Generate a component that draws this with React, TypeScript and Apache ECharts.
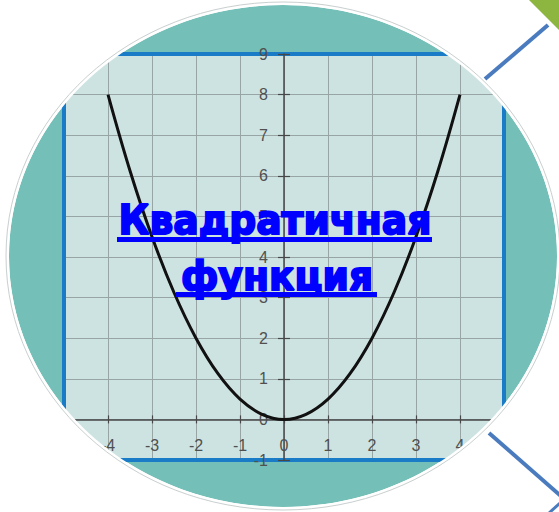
import React, { useEffect, useRef } from "react";
import * as echarts from "echarts";

// Curve points (x, y)
const curveX = [-4, -3.5, -3, -2.5, -2, -1.5, -1, -0.5, 0, 0.5, 1, 1.5, 2, 2.5, 3, 3.5, 4];
const curveY = [8, 6.125, 4.5, 3.125, 2, 1.125, 0.5, 0.125, 0, 0.125, 0.5, 1.125, 2, 3.125, 4.5, 6.125, 8];

const xRange = { min: -5, max: 5, step: 1 };
const yRange = { min: -1, max: 9, step: 1 };
const hiddenXLabels = [-5, 5];

const titleLines = ["Квадратичная", "функция"];

const TEAL = "#74bfb7";
const PANEL = "#cde3e2";
const BORDER = "#1a7cc6";
const GRIDLINE = "#98a5a5";
const AXIS = "#474747";
const LABEL = "#505050";

export default function App() {
  const ref = useRef<HTMLDivElement>(null);

  useEffect(() => {
    if (!ref.current) return;
    const chart = echarts.init(ref.current, undefined, { renderer: "svg" });

    const cx = 283;
    const cy = 256;
    const rx = 274;
    const ry = 251;

    const gLeft = 64;
    const gTop = 54;
    const gW = 440;
    const gH = 406;
    // place the axes through the origin
    const xOff = -(gH * (0 - yRange.min)) / (yRange.max - yRange.min);
    const yOff = -(gW * (0 - xRange.min)) / (xRange.max - xRange.min);

    const baseX = {
      type: "value",
      min: xRange.min,
      max: xRange.max,
      interval: xRange.step,
      position: "bottom",
    };
    const baseY = {
      type: "value",
      min: yRange.min,
      max: yRange.max,
      interval: yRange.step,
      position: "left",
    };
    const none = {
      axisLine: { show: false, onZero: false },
      axisTick: { show: false },
      axisLabel: { show: false },
      splitLine: { show: false },
    };

    const titleStyle = {
      fill: "#0000ff",
      stroke: "#0000ff",
      lineWidth: 2,
      fontSize: 41,
      fontWeight: "bold",
      fontFamily: "DejaVu Sans",
      align: "center",
      verticalAlign: "middle",
    };

    chart.setOption({
      animation: false,
      backgroundColor: "#ffffff",
      grid: {
        left: gLeft,
        top: gTop,
        width: gW,
        height: gH,
        show: true,
        backgroundColor: PANEL,
        borderWidth: 0,
      },
      xAxis: [
        {
          ...baseX,
          ...none,
          offset: xOff,
          z: 3,
          axisLine: { show: true, onZero: false, lineStyle: { color: AXIS, width: 1.5 } },
          axisTick: { show: true, length: 4, lineStyle: { color: AXIS, width: 1.2 } },
          axisLabel: {
            show: true,
            margin: 18,
            color: LABEL,
            fontSize: 16,
            fontFamily: "Liberation Sans",
            formatter: (v: number) => (hiddenXLabels.includes(v) ? "" : String(v)),
          },
        },
        {
          ...baseX,
          ...none,
          offset: xOff,
          z: 3,
          axisTick: { show: true, inside: true, length: 4, lineStyle: { color: AXIS, width: 1.2 } },
        },
        {
          ...baseX,
          ...none,
          z: 0,
          splitLine: { show: true, lineStyle: { color: GRIDLINE, width: 1 } },
        },
      ],
      yAxis: [
        {
          ...baseY,
          ...none,
          offset: yOff,
          z: 3,
          axisLine: { show: true, onZero: false, lineStyle: { color: AXIS, width: 1.5 } },
          axisTick: { show: true, length: 6, lineStyle: { color: AXIS, width: 1.2 } },
          axisLabel: {
            show: true,
            margin: 16,
            color: LABEL,
            fontSize: 16,
            fontFamily: "Liberation Sans",
          },
        },
        {
          ...baseY,
          ...none,
          offset: yOff,
          z: 3,
          axisTick: { show: true, inside: true, length: 6, lineStyle: { color: AXIS, width: 1.2 } },
        },
        {
          ...baseY,
          ...none,
          z: 0,
          splitLine: { show: true, lineStyle: { color: GRIDLINE, width: 1 } },
        },
      ],
      series: [
        {
          type: "line",
          xAxisIndex: 0,
          yAxisIndex: 0,
          data: curveX.map((x, i) => [x, curveY[i]]),
          smooth: 0.4,
          showSymbol: false,
          symbol: "none",
          lineStyle: { color: "#111111", width: 3 },
          z: 4,
        },
      ],
      graphic: [
        {
          type: "ellipse",
          z: -10,
          shape: { cx, cy, rx, ry },
          style: { fill: TEAL },
          silent: true,
        },
        {
          type: "rect",
          z: 1,
          shape: { x: gLeft, y: gTop, width: gW, height: gH },
          style: { fill: "none", stroke: BORDER, lineWidth: 4 },
          silent: true,
        },
        {
          type: "ring",
          z: 100,
          x: cx,
          y: cy,
          scaleY: ry / rx,
          shape: { cx: 0, cy: 0, r: 480, r0: rx },
          style: { fill: "#ffffff" },
          silent: true,
        },
        {
          type: "ellipse",
          z: 101,
          shape: { cx, cy, rx: rx + 3, ry: ry + 3 },
          style: { fill: "none", stroke: "#c9cfcf", lineWidth: 1 },
          silent: true,
        },
        {
          type: "polygon",
          z: 102,
          shape: { points: [[529, 0], [559, 0], [559, 30]] },
          style: { fill: "#8db640" },
          silent: true,
        },
        {
          type: "line",
          z: 102,
          shape: { x1: 485, y1: 79, x2: 548, y2: 25 },
          style: { stroke: "#4a7bbf", lineWidth: 4 },
          silent: true,
        },
        {
          type: "line",
          z: 102,
          shape: { x1: 489, y1: 433, x2: 562, y2: 497 },
          style: { stroke: "#4a7bbf", lineWidth: 4 },
          silent: true,
        },
        {
          type: "line",
          z: 102,
          shape: { x1: 549, y1: 513, x2: 560, y2: 503 },
          style: { stroke: "#4a7bbf", lineWidth: 3 },
          silent: true,
        },
        {
          type: "text",
          z: 110,
          x: 275,
          y: 219,
          scaleX: 0.92,
          style: { ...titleStyle, text: titleLines[0] },
          silent: true,
        },
        {
          type: "rect",
          z: 110,
          shape: { x: 117, y: 237, width: 315, height: 5 },
          style: { fill: "#0000ff" },
          silent: true,
        },
        {
          type: "text",
          z: 110,
          x: 277,
          y: 275,
          scaleX: 0.92,
          style: { ...titleStyle, text: titleLines[1] },
          silent: true,
        },
        {
          type: "rect",
          z: 110,
          shape: { x: 176, y: 292, width: 201, height: 5 },
          style: { fill: "#0000ff" },
          silent: true,
        },
      ],
    });

    return () => chart.dispose();
  }, []);

  return (
    <div
      ref={ref}
      style={{ position: "fixed", left: 0, top: 0, width: 559, height: 512, background: "#fff" }}
    />
  );
}
